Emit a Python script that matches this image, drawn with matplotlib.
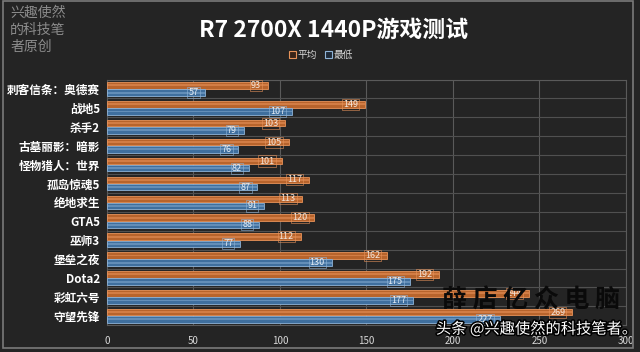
import matplotlib
matplotlib.use("Agg")
import matplotlib.pyplot as plt
import matplotlib.patheffects as pe
from matplotlib.patches import Patch, Rectangle
import numpy as np

plt.rcParams['font.family'] = ['Noto Sans CJK SC', 'DejaVu Sans']

categories = ["刺客信条：奥德赛", "战地5", "杀手2", "古墓丽影：暗影", "怪物猎人：世界",
              "孤岛惊魂5", "绝地求生", "GTA5", "巫师3", "堡垒之夜", "Dota2", "彩虹六号", "守望先锋"]
avg_fps = [93, 149, 103, 105, 101, 117, 113, 120, 112, 162, 192, 244, 269]
min_fps = [57, 107, 79, 76, 82, 87, 91, 88, 77, 130, 175, 177, 227]
xticks = [0, 50, 100, 150, 200, 250, 300]

BG = "#242424"
ORANGE = "#b8642c"
ORANGE_L = "#e8935a"
BLUE = "#3f6f9e"
BLUE_L = "#8fb4d8"

fig = plt.figure(figsize=(6.4, 3.52), dpi=100, facecolor=BG)
ax = fig.add_axes([0.167, 0.076, 0.811, 0.698], facecolor=BG)

y = np.arange(len(categories))
h = 0.34
off = 0.19
ax.barh(y - off, avg_fps, height=h, color=ORANGE, edgecolor=ORANGE_L, linewidth=0.6, zorder=3)
ax.barh(y - off, avg_fps, height=h * 0.3, color=ORANGE_L, alpha=0.55, linewidth=0, zorder=4)
ax.barh(y + off, min_fps, height=h, color=BLUE, edgecolor=BLUE_L, linewidth=0.6, zorder=3)
ax.barh(y + off, min_fps, height=h * 0.3, color=BLUE_L, alpha=0.45, linewidth=0, zorder=4)

for yi, v in zip(y, avg_fps):
    ax.text(v - 4, yi - off, str(v), ha='right', va='center', fontsize=6.5, color='#f2e6dc', zorder=6,
            bbox=dict(boxstyle='square,pad=0.12', facecolor='none', edgecolor=ORANGE_L, linewidth=0.4))
for yi, v in zip(y, min_fps):
    ax.text(v - 4, yi + off, str(v), ha='right', va='center', fontsize=6.5, color='#e6eef6', zorder=6,
            bbox=dict(boxstyle='square,pad=0.12', facecolor='none', edgecolor=BLUE_L, linewidth=0.4))

ax.set_xlim(0, 300)
ax.set_ylim(len(categories) - 0.5, -0.5)
ax.set_xticks(xticks)
ax.set_xticklabels([str(t) for t in xticks], fontsize=7, color='#d8d8d8')
ax.set_yticks(y)
ax.set_yticklabels(categories, fontsize=8.4, fontweight='bold', color='white')
ax.set_yticks(np.arange(len(categories) + 1) - 0.5, minor=True)
ax.tick_params(axis='both', which='both', length=0)
ax.tick_params(axis='x', pad=8)
ax.tick_params(axis='y', pad=5)
ax.grid(axis='x', color='#5a5a5a', linewidth=0.8, zorder=0)
ax.grid(axis='y', which='minor', color='#505050', linewidth=0.8, zorder=0)
for s in ax.spines.values():
    s.set_color('#5a5a5a')
    s.set_linewidth(0.8)

fig.text(0.521, 0.915, "R7 2700X 1440P游戏测试", ha='center', va='center',
         fontsize=16.5, fontweight='bold', color='white')

handles = [Patch(facecolor='#3a2418', edgecolor=ORANGE_L, linewidth=0.8, label='平均'),
           Patch(facecolor='#1e2a38', edgecolor=BLUE_L, linewidth=0.8, label='最低')]
leg = fig.legend(handles=handles, loc='center', bbox_to_anchor=(0.502, 0.843), ncol=2, frameon=False,
                 fontsize=7, handlelength=0.7, handleheight=0.7, handletextpad=0.2, columnspacing=0.8)
for t in leg.get_texts():
    t.set_color('#d8d8d8')

fig.text(0.016, 0.985, "兴趣使然\n的科技笔\n者原创", ha='left', va='top', fontsize=10,
         color='#8c8c8c', linespacing=1.32, fontweight='light')

fig.text(0.69, 0.148, "薛 店 亿 众 电 脑", ha='left', va='center', fontsize=18,
         fontweight='heavy', color='#0a0a0a')
fig.text(0.995, 0.065, "头条 @兴趣使然的科技笔者。", ha='right', va='center', fontsize=11,
         color='white', path_effects=[pe.withStroke(linewidth=2.2, foreground='black')])

fig.patches.append(Rectangle((0.004, 0.012), 0.985, 0.985, transform=fig.transFigure,
                             fill=False, edgecolor='#7a7a7a', linewidth=1.2))

fig.savefig("out.png", dpi=100, facecolor=BG)
